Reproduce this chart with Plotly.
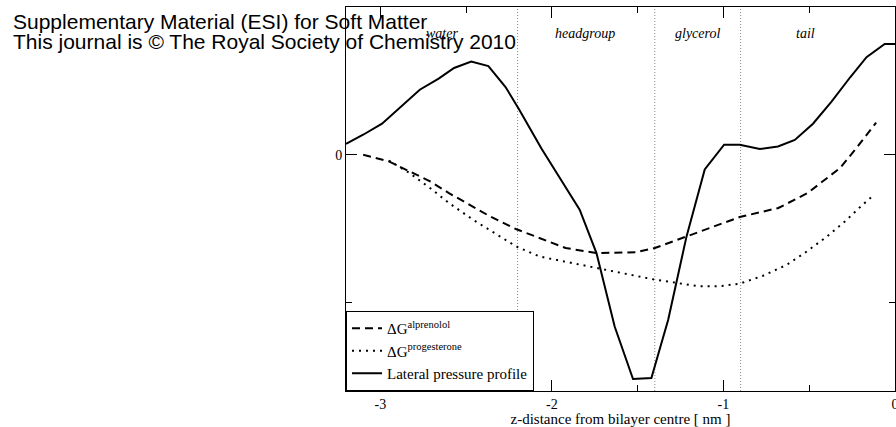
import plotly.graph_objects as go

# Free-energy profiles and lateral pressure profile across the bilayer (arbitrary units)
z_alprenolol = [-3.10, -3.04, -2.95, -2.83, -2.71, -2.60, -2.48, -2.36, -2.21, -2.07,
                -1.92, -1.74, -1.51, -1.40, -1.22, -1.02, -0.905, -0.68, -0.51, -0.32,
                -0.225, -0.11]
dg_alprenolol = [0.0, -0.016, -0.045, -0.113, -0.18, -0.26, -0.34, -0.418, -0.503, -0.564,
                 -0.632, -0.666, -0.661, -0.632, -0.557, -0.474, -0.422, -0.361, -0.26, -0.09,
                 0.045, 0.217]

z_progesterone = [-2.95, -2.83, -2.71, -2.60, -2.46, -2.32, -2.21, -2.07, -1.74, -1.40,
                  -1.14, -1.02, -0.905, -0.77, -0.63, -0.52, -0.40, -0.29, -0.19, -0.12]
dg_progesterone = [-0.04, -0.124, -0.226, -0.327, -0.44, -0.542, -0.62, -0.69, -0.767, -0.846,
                   -0.891, -0.89, -0.873, -0.82, -0.745, -0.66, -0.557, -0.45, -0.34, -0.27]

z_pressure = [-3.2, -3.10, -2.99, -2.88, -2.77, -2.66, -2.57, -2.47, -2.37, -2.27,
              -2.19, -2.06, -1.838, -1.74, -1.634, -1.527, -1.42, -1.322, -1.215, -1.109,
              -0.996, -0.905, -0.788, -0.682, -0.584, -0.478, -0.37, -0.26, -0.166, -0.06, 0.0]
pressure = [0.074, 0.135, 0.21, 0.327, 0.44, 0.515, 0.587, 0.63, 0.60, 0.458,
            0.305, 0.04, -0.372, -0.666, -1.163, -1.519, -1.512, -1.117, -0.553, -0.10,
            0.068, 0.068, 0.038, 0.056, 0.10, 0.21, 0.36, 0.526, 0.66, 0.75, 0.75]

# Region boundaries and names
boundaries = [-2.2, -1.4, -0.9]
region_names = ["water", "headgroup", "glycerol", "tail"]
region_centres = [-2.643, -1.806, -1.153, -0.524]

header_lines = ["Supplementary Material (ESI) for Soft Matter",
                "This journal is © The Royal Society of Chemistry 2010"]

SERIF = "Liberation Serif, Times New Roman, serif"
SANS = "Liberation Sans, Arial, sans-serif"

fig = go.Figure()

fig.add_trace(go.Scatter(
    x=z_alprenolol, y=dg_alprenolol, mode="lines",
    name="ΔG<sup>alprenolol</sup>",
    line=dict(color="black", width=2, dash="8px,5px"),
))
fig.add_trace(go.Scatter(
    x=z_progesterone, y=dg_progesterone, mode="lines",
    name="ΔG<sup>progesterone</sup>",
    line=dict(color="black", width=2, dash="2px,5px"),
))
fig.add_trace(go.Scatter(
    x=z_pressure, y=pressure, mode="lines",
    name="Lateral pressure profile",
    line=dict(color="black", width=2),
))

shapes = []
for b in boundaries:
    shapes.append(dict(type="line", xref="x", yref="paper", x0=b, x1=b, y0=0, y1=1,
                       line=dict(color="#888888", width=1, dash="1px,2px"), layer="below"))

annotations = []
for name, xc in zip(region_names, region_centres):
    annotations.append(dict(x=xc, y=0.93, xref="x", yref="paper", text=f"<i>{name}</i>",
                            showarrow=False, font=dict(family=SERIF, size=14, color="black"),
                            xanchor="center", yanchor="middle"))

header_y = [0.9635, 0.9089]
for line, yy in zip(header_lines, header_y):
    annotations.append(dict(x=-0.611, y=yy, xref="paper", yref="paper",
                            text=line, showarrow=False, xanchor="left", yanchor="middle",
                            font=dict(family=SANS, size=21, color="black")))

fig.update_layout(
    width=896, height=427,
    margin=dict(l=346, r=1, t=7, b=36, autoexpand=False),
    paper_bgcolor="white", plot_bgcolor="white",
    showlegend=True,
    legend=dict(x=0, y=0, xanchor="left", yanchor="bottom",
                bgcolor="white", bordercolor="black", borderwidth=1,
                font=dict(family=SERIF, size=15, color="black"),
                tracegroupgap=0),
    shapes=shapes,
    annotations=annotations,
    xaxis=dict(
        range=[-3.2, 0.0], tickvals=[-3, -2, -1, 0], ticktext=["-3", "-2", "-1", "0"],
        ticks="inside", ticklen=11, tickwidth=1, tickcolor="black",
        ticklabeloverflow="allow", automargin=False,
        minor=dict(tickvals=[-2.5, -1.5, -0.5], ticks="inside", ticklen=6,
                   tickcolor="black", tickwidth=1, showgrid=False),
        showline=True, linecolor="black", linewidth=1, mirror="ticks",
        showgrid=False, zeroline=False,
        tickfont=dict(family=SERIF, size=14, color="black"),
        title=dict(text="z-distance from bilayer centre [ nm ]", standoff=4,
                   font=dict(family=SERIF, size=15, color="black")),
    ),
    yaxis=dict(
        range=[-1.6, 1.0], tickvals=[0], ticktext=["0"],
        ticks="inside", ticklen=11, tickwidth=1, tickcolor="black",
        automargin=False,
        minor=dict(tickvals=[-1, 1], ticks="inside", ticklen=6,
                   tickcolor="black", tickwidth=1, showgrid=False),
        showline=True, linecolor="black", linewidth=1, mirror="ticks",
        showgrid=False, zeroline=False,
        tickfont=dict(family=SERIF, size=14, color="black"),
    ),
)

fig.write_html("out.html")
